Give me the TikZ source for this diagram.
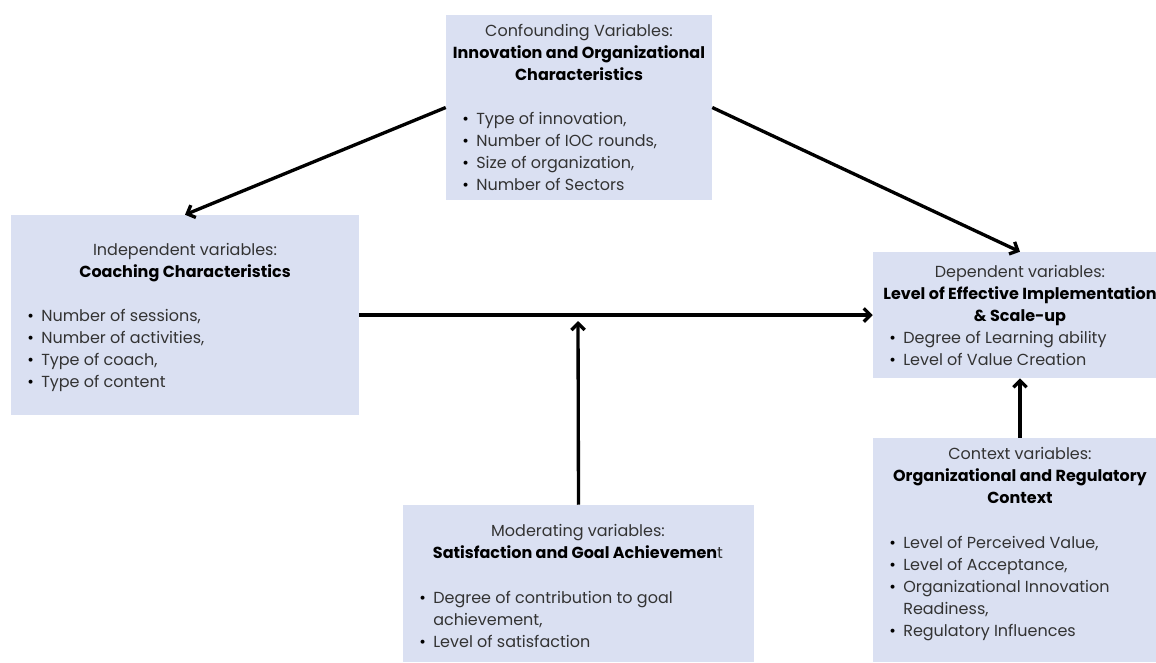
\documentclass[tikz,border=0pt]{standalone}
\usepackage{fontspec}
\setmainfont{Poppins}
\usetikzlibrary{arrows.meta,fit}

\definecolor{boxblue}{RGB}{218,224,242}
\definecolor{labgrey}{RGB}{51,51,51}

\tikzset{
  varbox/.style={fill=boxblue, draw=none, inner sep=0pt},
  headtxt/.style={align=center, inner sep=0pt, text=labgrey, anchor=north,
    font=\fontsize{12}{16.5}\selectfont},
  listtxt/.style={align=left, inner sep=0pt, text=labgrey, anchor=north west,
    font=\fontsize{12}{16.5}\selectfont},
  flow/.style={line width=2.5pt, -{Straight Barb[length=5pt,width=10pt]}}
}

\newcommand{\bul}{\makebox[10.5pt][l]{\color{black}\textbullet}}
\newcommand{\hd}[1]{{\color{black}\bfseries #1}}

\begin{document}
\begin{tikzpicture}[x=0.75pt, y=-0.75pt]
  \useasboundingbox (0,0) rectangle (1156,662);

  % boxes
  \node[varbox, fit={(446,15) (712,200)}] (conf) {};
  \node[varbox, fit={(11,215) (359,415)}] (indep) {};
  \node[varbox, fit={(873,252) (1167,378)}] (dep) {};
  \node[varbox, fit={(403,505) (754,662)}] (mod) {};
  \node[varbox, fit={(873,438) (1167,662)}] (ctx) {};

  % confounding
  \node[headtxt] (confh) at (579,24) {Confounding Variables:\\
    \hd{Innovation and Organizational}\\ \hd{Characteristics}};
  \node[listtxt] (confl) at (462,112) {\bul Type of innovation,\\
    \bul Number of IOC rounds,\\ \bul Size of organization,\\
    \bul Number of Sectors};

  % independent
  \node[headtxt] (indeph) at (185,243) {Independent variables:\\
    \hd{Coaching Characteristics}};
  \node[listtxt] (indepl) at (27,309) {\bul Number of sessions,\\
    \bul Number of activities,\\ \bul Type of coach,\\ \bul Type of content};

  % dependent
  \node[headtxt] (deph) at (1020,265) {Dependent variables:\\
    \hd{Level of Effective Implementation}\\ \hd{\& Scale-up}};
  \node[listtxt] (depl) at (889,331) {\bul Degree of Learning ability\\
    \bul Level of Value Creation};

  % moderating
  \node[headtxt] (modh) at (578,524) {Moderating variables:\\
    \hd{Satisfaction and Goal Achievemen}t};
  \node[listtxt] (modl) at (419,591) {\bul Degree of contribution to goal\\
    \hphantom{\bul}achievement,\\ \bul Level of satisfaction};

  % context
  \node[headtxt] (ctxh) at (1020,447) {Context variables:\\
    \hd{Organizational and Regulatory}\\ \hd{Context}};
  \node[listtxt] (ctxl) at (889,536) {\bul Level of Perceived Value,\\
    \bul Level of Acceptance,\\ \bul Organizational Innovation\\
    \hphantom{\bul}Readiness,\\ \bul Regulatory Influences};

  % arrows
  \coordinate (hit) at (578,321);
  \draw[flow] (conf.west) -- (indep.north);
  \draw[flow] (conf.east) -- (dep.north);
  \draw[flow] (indep.east) -- (indep.east -| dep.west);
  \draw[flow] (mod.north) -- (hit);
  \draw[flow] (ctx.north) -- (dep.south);
\end{tikzpicture}
\end{document}
